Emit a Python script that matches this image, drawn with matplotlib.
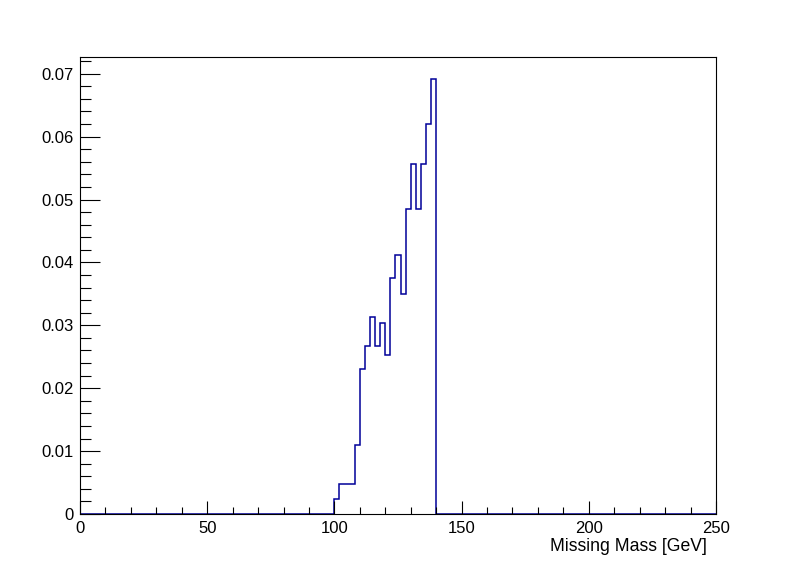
import numpy as np
import matplotlib
matplotlib.use("Agg")
import matplotlib.pyplot as plt
from matplotlib.ticker import MultipleLocator

plt.rcParams["font.family"] = ["Liberation Sans", "DejaVu Sans"]

# histogram: 125 bins of 2 GeV from 0 to 250, only 100-140 filled
BIN_W = 2
X_MIN, X_MAX = 0, 250
FILLED_LO = 100
filled = [0.00233, 0.00472, 0.00472, 0.00472, 0.01091,
          0.02298, 0.02668, 0.03140, 0.02668, 0.03030,
          0.02536, 0.03760, 0.04124, 0.03505, 0.04855,
          0.05570, 0.04855, 0.05570, 0.06194, 0.06920]

edges = np.arange(X_MIN, X_MAX + BIN_W, BIN_W)
vals = np.zeros(len(edges) - 1)
i0 = (FILLED_LO - X_MIN) // BIN_W
vals[i0:i0 + len(filled)] = filled

fig = plt.figure(figsize=(7.96, 5.72), dpi=100)
ax = fig.add_axes([0.1005, 0.1014, 0.799, 0.7989])

ax.stairs(vals, edges, color="#000099", lw=1.1, baseline=0)

ax.set_xlim(X_MIN, X_MAX)
ax.set_ylim(0, 1.05 * max(filled))

ax.xaxis.set_major_locator(MultipleLocator(50))
ax.xaxis.set_minor_locator(MultipleLocator(10))
ax.yaxis.set_major_locator(MultipleLocator(0.01))
ax.yaxis.set_minor_locator(MultipleLocator(0.002))
ax.yaxis.set_major_formatter(plt.FuncFormatter(lambda v, p: "0" if v == 0 else "%g" % round(v, 3)))

ax.tick_params(axis="both", direction="in", width=0.8, labelsize=12, top=False, right=False)
ax.tick_params(axis="x", which="major", length=9.6, pad=5)
ax.tick_params(axis="x", which="minor", length=5)
ax.tick_params(axis="y", which="major", length=14.4, pad=4.3)
ax.tick_params(axis="y", which="minor", length=7.9)
ax.tick_params(which="minor", direction="in", width=0.8)
for sp in ax.spines.values():
    sp.set_linewidth(0.8)

ax.set_xlabel("Missing Mass [GeV]", fontsize=12.7, ha="right", va="center")
ax.xaxis.set_label_coords(0.986, -0.072)

fig.savefig("out.png", dpi=100)
